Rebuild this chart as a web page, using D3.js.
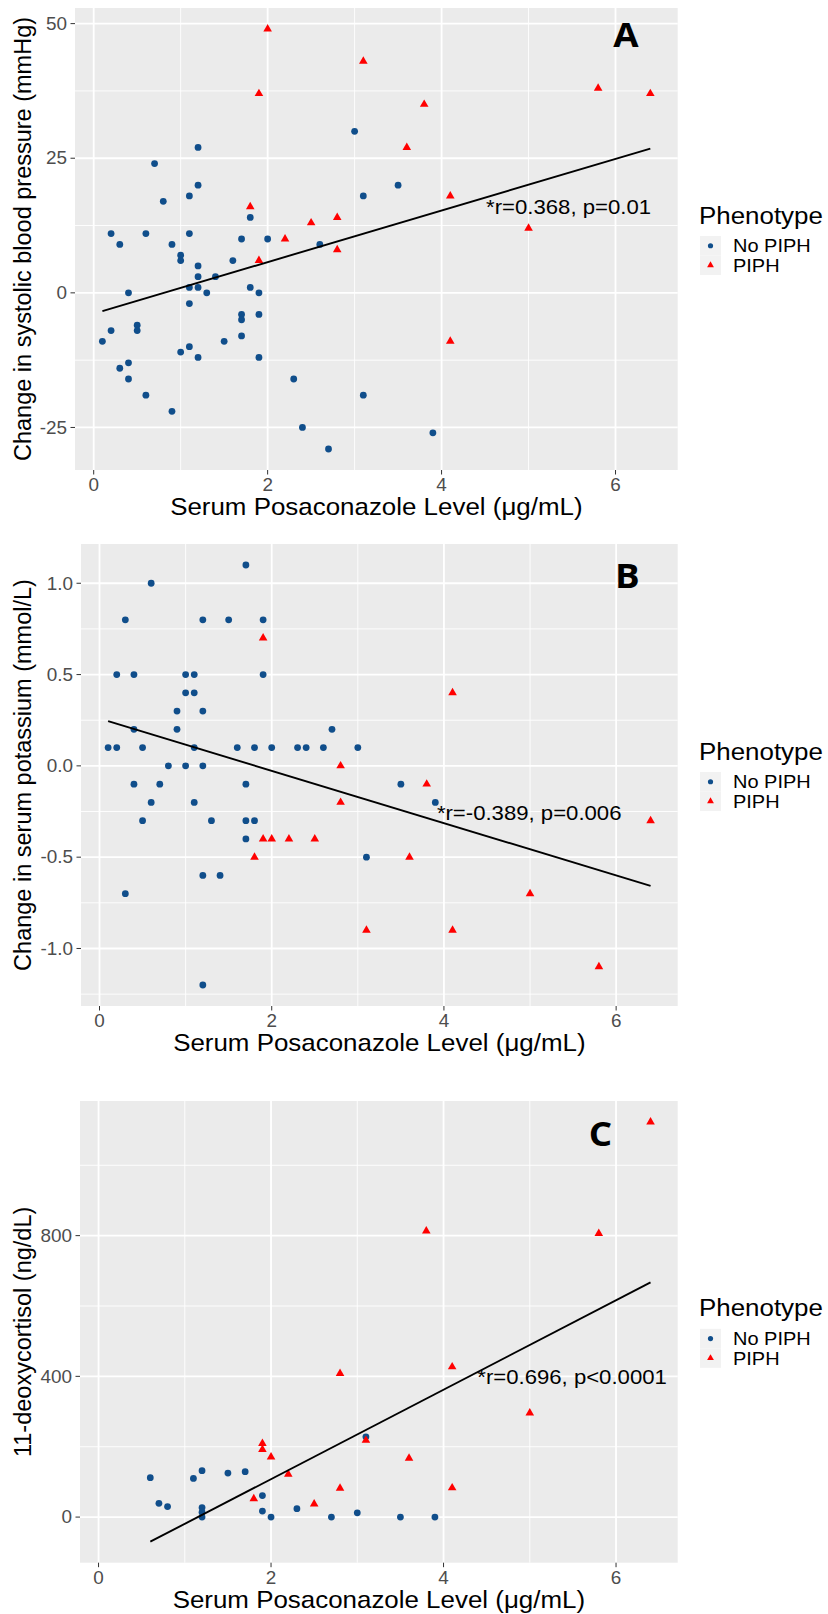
<!DOCTYPE html>
<html><head><meta charset="utf-8">
<script src="https://cdn.jsdelivr.net/npm/d3@7"></script>
<style>body{margin:0;background:#fff}</style>
</head><body>
<svg id="chart" width="828" height="1614"></svg>
<script>
// ---------- DATA ----------
const xTicks = [0, 2, 4, 6];
const xDataRange = [0.1, 6.4];
const xTitle = "Serum Posaconazole Level (\u03bcg/mL)";
const legendTitle = "Phenotype";
const groupLabels = ["No PIPH", "PIPH"];

// Panel A: change in systolic blood pressure
const aNoPIPH = [[0.1,-9],[0.2,11],[0.2,-7],[0.3,9],[0.3,-14],[0.4,0],[0.4,-13],[0.4,-16],[0.5,-6],[0.5,-7],
  [0.6,11],[0.6,-19],[0.7,24],[0.8,17],[0.9,9],[0.9,-22],[1.0,7],[1.0,6],[1.0,-11],[1.1,18],[1.1,11],[1.1,1],
  [1.1,-2],[1.1,-10],[1.2,27],[1.2,20],[1.2,5],[1.2,3],[1.2,1],[1.2,-12],[1.3,0],[1.4,3],[1.5,-9],[1.6,6],
  [1.7,10],[1.7,-4],[1.7,-5],[1.7,-8],[1.8,14],[1.8,1],[1.9,0],[1.9,-4],[1.9,-12],[2.0,10],[2.3,-16],[2.4,-25],
  [2.6,9],[2.7,-29],[3.0,30],[3.1,18],[3.1,-19],[3.5,20],[3.9,-26]];
const aPIPH = [[1.8,16],[1.9,37],[1.9,6],[2.0,49],[2.2,10],[2.5,13],[2.8,14],[2.8,8],[3.1,43],[3.6,27],
  [3.8,35],[4.1,18],[4.1,-9],[5.0,12],[5.8,38],[6.4,37]];
const aFit = [[0.1,-3.4],[6.4,26.8]];
const aYTicks = [-25, 0, 25, 50];
const aYLabels = ["-25", "0", "25", "50"];

// Panel B: change in serum potassium
const bNoPIPH = [[0.6,1.0],[1.7,1.1],[0.3,0.8],[1.2,0.8],[1.5,0.8],[1.9,0.8],[0.2,0.5],[0.4,0.5],[1.0,0.5],
  [1.1,0.5],[1.9,0.5],[1.0,0.4],[1.1,0.4],[0.9,0.3],[1.2,0.3],[0.9,0.2],[0.4,0.2],[2.7,0.2],
  [0.1,0.1],[0.2,0.1],[0.5,0.1],[1.1,0.1],[1.6,0.1],[1.8,0.1],[2.0,0.1],[2.3,0.1],[2.4,0.1],[2.6,0.1],[3.0,0.1],
  [0.8,0.0],[1.0,0.0],[1.2,0.0],[0.4,-0.1],[0.7,-0.1],[1.7,-0.1],[3.5,-0.1],[0.6,-0.2],[1.1,-0.2],[3.9,-0.2],
  [0.5,-0.3],[1.3,-0.3],[1.7,-0.3],[1.8,-0.3],[1.7,-0.4],[3.1,-0.5],[1.2,-0.6],[1.4,-0.6],[0.3,-0.7],[1.2,-1.2]];
const bPIPH = [[1.9,0.7],[2.8,0.0],[2.8,-0.2],[4.1,0.4],[3.8,-0.1],[6.4,-0.3],[3.6,-0.5],[1.8,-0.5],
  [1.9,-0.4],[2.0,-0.4],[2.2,-0.4],[2.5,-0.4],[3.1,-0.9],[5.0,-0.7],[4.1,-0.9],[5.8,-1.1]];
const bFit = [[0.1,0.245],[6.4,-0.657]];
const bYTicks = [-1.0, -0.5, 0.0, 0.5, 1.0];
const bYLabels = ["-1.0", "-0.5", "0.0", "0.5", "1.0"];

// Panel C: 11-deoxycortisol
const cNoPIPH = [[0.6,112],[0.7,39],[0.8,30],[1.1,110],[1.2,132],[1.2,27],[1.2,14],[1.2,0],[1.5,125],[1.7,129],
  [1.9,61],[1.9,17],[2.0,0],[2.3,24],[2.7,0],[3.0,12],[3.1,228],[3.5,0],[3.9,0]];
const cPIPH = [[1.8,52],[1.9,209],[1.9,192],[2.0,171],[2.2,122],[2.5,37],[2.8,408],[2.8,82],[3.1,218],
  [3.6,167],[3.8,813],[4.1,427],[4.1,83],[5.0,296],[5.8,806],[6.4,1123]];
const cFit = [[0.6,-70],[6.4,667]];
const cYTicks = [0, 400, 800];
const cYLabels = ["0", "400", "800"];

// ---------- LAYOUT / STYLE ----------
const BLUE = "#104E8B", RED = "#FF0000";
const FONT = "'Liberation Sans', Arial, sans-serif";
const SX = 1.08; // horizontal stretch seen in the reference
const panels = [
  {letter:"A", no:aNoPIPH, yes:aPIPH, fit:aFit, yTicks:aYTicks, yLabels:aYLabels,
   yTitle:"Change in systolic blood pressure (mmHg)", stat:"*r=0.368, p=0.01", statAt:[5.46,16], letterAt:[6.12,47.9],
   box:{l:75, r:677.7, t:8, b:470}},
  {letter:"B", no:bNoPIPH, yes:bPIPH, fit:bFit, yTicks:bYTicks, yLabels:bYLabels,
   yTitle:"Change in serum potassium (mmol/L)", stat:"*r=-0.389, p=0.006", statAt:[4.99,-0.258], letterAt:[6.13,1.04],
   box:{l:81, r:677.7, t:544, b:1006}},
  {letter:"C", no:cNoPIPH, yes:cPIPH, fit:cFit, yTicks:cYTicks, yLabels:cYLabels,
   yTitle:"11-deoxycortisol (ng/dL)", stat:"*r=0.696, p<0.0001", statAt:[5.49,398], letterAt:[5.82,1090],
   box:{l:80, r:677.7, t:1101, b:1562.7}}
];

const svg = d3.select("#chart");

function expand(ext){ const s = ext[1]-ext[0]; return [ext[0]-0.05*s, ext[1]+0.05*s]; }
function minorBreaks(ticks, dom){
  const step = ticks[1]-ticks[0], out = [];
  for (let v = ticks[0]-step/2; v <= ticks[ticks.length-1]+step/2+1e-9; v += step)
    if (v >= dom[0] && v <= dom[1]) out.push(v);
  return out;
}
function htext(g, x, y, str, size, anchor, fill){
  return g.append("text")
    .attr("transform", `translate(${x},${y}) scale(${SX},1)`)
    .attr("font-family", FONT).attr("font-size", size)
    .attr("text-anchor", anchor).attr("fill", fill).text(str);
}

panels.forEach(p => {
  const B = p.box;
  const g = svg.append("g");
  const x = d3.scaleLinear().domain(expand(xDataRange)).range([B.l, B.r]);
  const allY = p.no.concat(p.yes, p.fit).map(d => d[1]);
  const yDom = expand(d3.extent(allY));
  const y = d3.scaleLinear().domain(yDom).range([B.b, B.t]);

  g.append("rect").attr("x", B.l).attr("y", B.t).attr("width", B.r-B.l).attr("height", B.b-B.t).attr("fill", "#EBEBEB");

  const xDom = x.domain();
  minorBreaks(xTicks, xDom).forEach(v => g.append("line").attr("x1", x(v)).attr("x2", x(v)).attr("y1", B.t).attr("y2", B.b)
    .attr("stroke", "#fff").attr("stroke-width", 0.9));
  minorBreaks(p.yTicks, yDom).forEach(v => g.append("line").attr("y1", y(v)).attr("y2", y(v)).attr("x1", B.l).attr("x2", B.r)
    .attr("stroke", "#fff").attr("stroke-width", 0.9));
  xTicks.forEach(v => g.append("line").attr("x1", x(v)).attr("x2", x(v)).attr("y1", B.t).attr("y2", B.b)
    .attr("stroke", "#fff").attr("stroke-width", 1.8));
  p.yTicks.forEach(v => g.append("line").attr("y1", y(v)).attr("y2", y(v)).attr("x1", B.l).attr("x2", B.r)
    .attr("stroke", "#fff").attr("stroke-width", 1.8));

  const tickFs = 17.5;
  xTicks.forEach(v => {
    g.append("line").attr("x1", x(v)).attr("x2", x(v)).attr("y1", B.b).attr("y2", B.b+4.5).attr("stroke", "#333").attr("stroke-width", 1);
    htext(g, x(v), B.b + 15 + 0.358*tickFs, String(v), tickFs, "middle", "#4D4D4D");
  });
  p.yTicks.forEach((v, i) => {
    g.append("line").attr("x1", B.l-4.5).attr("x2", B.l).attr("y1", y(v)).attr("y2", y(v)).attr("stroke", "#333").attr("stroke-width", 1);
    htext(g, B.l - 8, y(v) + 0.358*tickFs, p.yLabels[i], tickFs, "end", "#4D4D4D");
  });

  htext(g, (B.l+B.r)/2, B.b + 45, xTitle, 24, "middle", "#000");
  g.append("text").attr("transform", `translate(30.5,${(B.t+B.b)/2}) rotate(-90)`)
    .attr("font-family", FONT).attr("font-size", 23.5).attr("text-anchor", "middle").attr("fill", "#000").text(p.yTitle);

  g.selectAll(".no").data(p.no).join("circle").attr("class", "no")
    .attr("cx", d => x(d[0])).attr("cy", d => y(d[1])).attr("r", 3.4).attr("fill", BLUE);
  const tri = d3.symbol(d3.symbolTriangle, 32);
  g.selectAll(".yes").data(p.yes).join("path").attr("class", "yes")
    .attr("transform", d => `translate(${x(d[0])},${y(d[1])})`).attr("d", tri).attr("fill", RED);

  g.append("path").datum(p.fit).attr("d", d3.line().x(d => x(d[0])).y(d => y(d[1])))
    .attr("fill", "none").attr("stroke", "#000").attr("stroke-width", 1.9);

  htext(g, x(p.statAt[0]), y(p.statAt[1]) + 0.358*20.5, p.stat, 20.5, "middle", "#000");

  g.append("text").attr("transform", `translate(${x(p.letterAt[0])},${y(p.letterAt[1]) + 0.36*34}) scale(${SX},1)`)
    .attr("font-family", "'Open Sans', sans-serif").attr("font-weight", 700).attr("font-size", 34)
    .attr("text-anchor", "middle").attr("fill", "#000").text(p.letter);

  const cy = (B.t + B.b)/2;
  htext(g, 699, cy - 15.5, legendTitle, 24, "start", "#000");
  groupLabels.forEach((lab, i) => {
    const ky = cy - 3 + i*19.5;
    g.append("rect").attr("x", 700).attr("y", ky).attr("width", 21).attr("height", 19.5).attr("fill", "#F2F2F2");
    if (i === 0) g.append("circle").attr("cx", 710.5).attr("cy", ky+9.75).attr("r", 2.6).attr("fill", BLUE);
    else g.append("path").attr("transform", `translate(710.5,${ky+9.75})`).attr("d", d3.symbol(d3.symbolTriangle, 20)).attr("fill", RED);
    htext(g, 733, ky + 9.75 + 0.358*18.5, lab, 18.5, "start", "#000");
  });
});
</script>
</body></html>
